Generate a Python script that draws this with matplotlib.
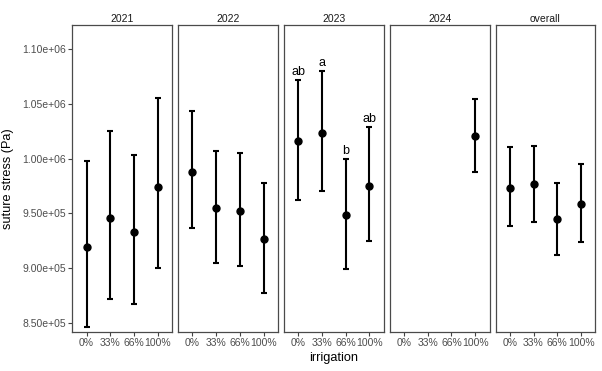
import numpy as np
import matplotlib.pyplot as plt

plt.rcParams['font.family'] = ['Liberation Sans', 'DejaVu Sans']

# facet panels and irrigation levels
panels = ['2021', '2022', '2023', '2024', 'overall']
irrigation = ['0%', '33%', '66%', '100%']

# mean suture stress (Pa) per panel, None = no data
means = {
    '2021': [919200, 945700, 932600, 973800],
    '2022': [988100, 955200, 952100, 926200],
    '2023': [1015900, 1023800, 948500, 975300],
    '2024': [None, None, None, 1020700],
    'overall': [973500, 976500, 944500, 958500],
}
upper = {
    '2021': [997900, 1025000, 1003000, 1055800],
    '2022': [1043300, 1007000, 1005500, 978000],
    '2023': [1071600, 1079900, 1000000, 1028700],
    '2024': [None, None, None, 1054600],
    'overall': [1010700, 1011900, 978000, 994800],
}
lower = {
    '2021': [846300, 872000, 867400, 899700],
    '2022': [936900, 904900, 901800, 877400],
    '2023': [962200, 970700, 898800, 924700],
    '2024': [None, None, None, 988100],
    'overall': [938100, 942100, 911900, 924100],
}
# significance letters (only 2023)
letters_2023 = ['ab', 'a', 'b', 'ab']

y_ticks = [8.5e5, 9.0e5, 9.5e5, 1.0e6, 1.05e6, 1.10e6]
y_tick_labels = ['8.50e+05', '9.00e+05', '9.50e+05', '1.00e+06', '1.05e+06', '1.10e+06']

W, H = 602, 371
fig = plt.figure(figsize=(W / 100, H / 100), dpi=100)

left0 = 72.3
pw = 99.8
gap = 6.0
top_px, bot_px = 25, 332

for i, name in enumerate(panels):
    x0 = left0 + i * (pw + gap)
    ax = fig.add_axes([x0 / W, 1 - bot_px / H, pw / W, (bot_px - top_px) / H])
    xs, ys, lo, hi = [], [], [], []
    for j in range(len(irrigation)):
        m = means[name][j]
        if m is None:
            continue
        xs.append(j)
        ys.append(m)
        lo.append(m - lower[name][j])
        hi.append(upper[name][j] - m)
    ax.errorbar(xs, ys, yerr=[lo, hi], fmt='o', color='black', ms=5.0,
                elinewidth=1.5, capsize=2.0, capthick=1.5)
    if name == '2023':
        for j, lab in enumerate(letters_2023):
            ax.annotate(lab, (j, upper[name][j]), xytext=(0, 5),
                        textcoords='offset pixels', ha='center', va='baseline',
                        fontsize=9, color='black')
    ax.set_xlim(-0.6, 3.6)
    ax.set_ylim(841450, 1122200)
    ax.set_xticks(range(len(irrigation)))
    ax.set_xticklabels(irrigation)
    ax.set_yticks(y_ticks)
    if i == 0:
        ax.set_yticklabels(y_tick_labels)
        ax.set_ylabel('suture stress (Pa)', fontsize=9.2)
        ax.yaxis.set_label_coords((14 - left0) / pw, 0.5)
    else:
        ax.tick_params(axis='y', left=False, labelleft=False)
    ax.tick_params(axis='both', labelsize=7.5, labelcolor='#4D4D4D',
                   color='#444444', length=2.6, width=0.8, pad=2)
    for s in ax.spines.values():
        s.set_color('#4a4a4a')
        s.set_linewidth(0.9)
    ax.set_title(name, fontsize=7.5, color='#1A1A1A', pad=2.5)

fig.text((left0 + (5 * pw + 4 * gap) / 2) / W, 1 - 358 / H, 'irrigation',
         ha='center', va='center', fontsize=9.2)

fig.savefig('out.png', dpi=100)
